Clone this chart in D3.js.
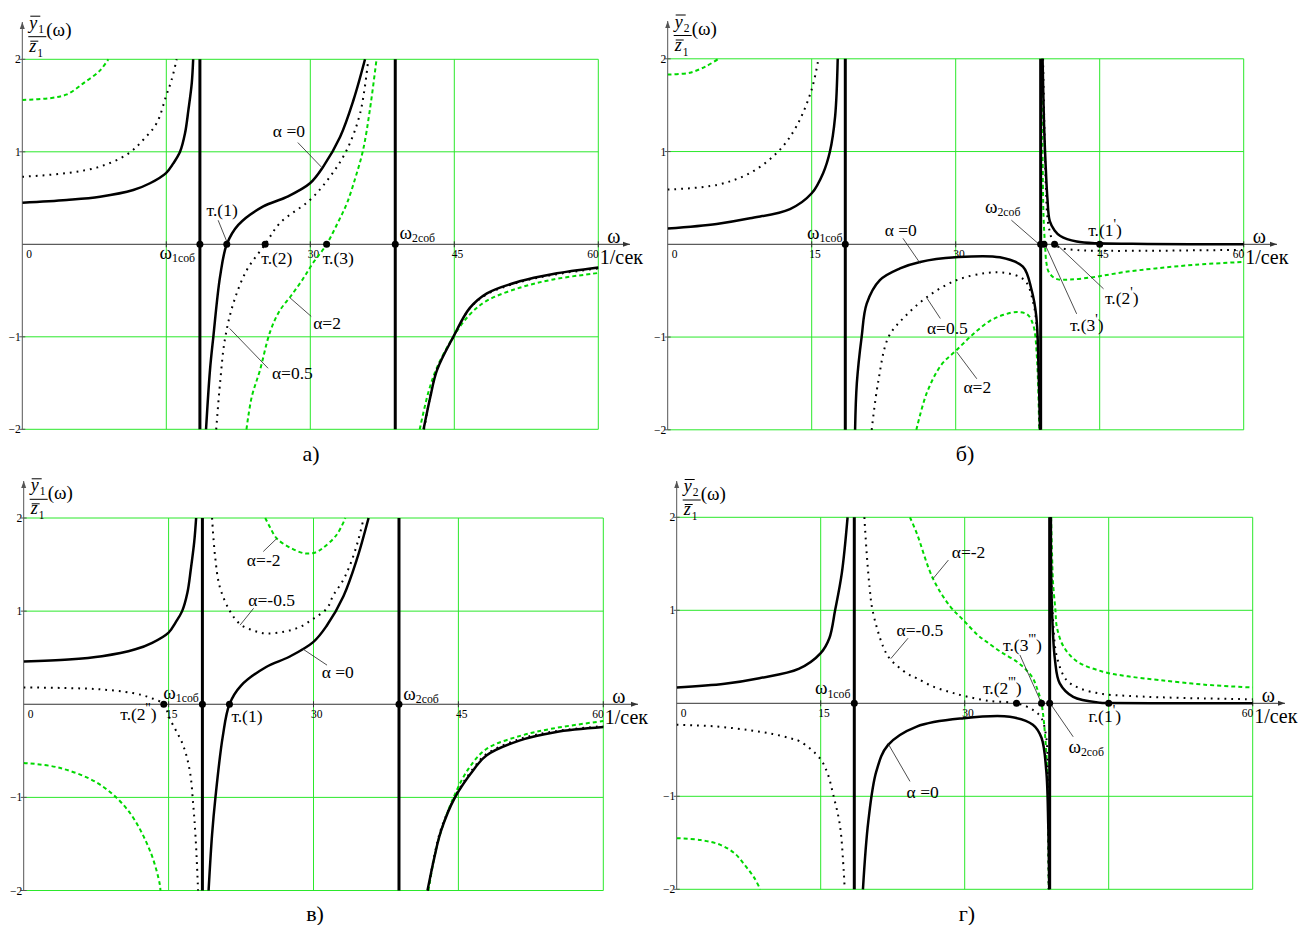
<!DOCTYPE html>
<html><head><meta charset="utf-8">
<script src="https://cdn.jsdelivr.net/npm/d3@7"></script>
<style>
body{margin:0;background:#fff}
svg, text{font-family:"Liberation Serif","Tinos","DejaVu Serif","Noto Serif",serif !important;}
text{fill:#000}
</style>
</head><body>
<svg id="chart" width="1309" height="925" font-family="Liberation Serif, Tinos, DejaVu Serif, serif"></svg>
<script>
// ---------------- data ----------------
const xTicks = [0, 15, 30, 45, 60];
const xTickLabels = ["0", "15", "30", "45", "60"];
const yTicks = [2, 1, -1, -2];
const yTickLabels = ["2", "1", "\u22121", "\u22122"];
const resonance = [18.5, 38.85];           // ω1соб, ω2соб

// panel а) y1/z1, α = 0, 0.5, 2
const a_alpha0 = [
  [[0,0.45],[4.63,0.48],[8.1,0.515],[11.56,0.587],[13.3,0.66],[14.97,0.77],[15.73,0.875],[16.43,1.0],[16.95,1.2],[17.3,1.45],[17.65,1.74],[17.8,2.0]],
  [[19.14,-2],[19.55,-1.36],[19.9,-1.0],[20.6,-0.35],[21.3,0],[22.5,0.21],[25.1,0.41],[27.5,0.51],[29.97,0.66],[31.35,0.84],[33.1,1.16],[34.5,1.56],[35.7,2.0]],
  [[41.8,-2],[42.5,-1.65],[43.2,-1.36],[44.9,-1.0],[46.6,-0.69],[48.4,-0.53],[51.8,-0.40],[55.3,-0.32],[60,-0.25]]
];
const a_alpha05 = [
  [[0,0.73],[4.63,0.77],[8.1,0.84],[11.04,0.98],[12.6,1.13],[14.0,1.31],[14.97,1.6],[15.56,1.78],[16.08,2.0]],
  [[20.2,-2],[20.6,-1.5],[21.1,-1.03],[21.98,-0.64],[23.38,-0.28],[25.3,0],[26.84,0.23],[29.97,0.48],[32.05,0.73],[33.8,1.02],[35.2,1.42],[36.04,2.0]],
  [[41.85,-2],[42.5,-1.64],[43.2,-1.35],[44.9,-1.0],[46.6,-0.695],[48.4,-0.54],[51.8,-0.41],[55.3,-0.33],[60,-0.26]]
];
const a_alpha2 = [
  [[0,1.56],[2.9,1.58],[4.63,1.62],[6.35,1.74],[8.1,1.88],[8.96,2.0]],
  [[23.35,-2],[23.9,-1.65],[24.76,-1.36],[25.8,-0.95],[26.8,-0.72],[27.9,-0.57],[29.2,-0.38],[30.3,-0.2],[31.7,0],[32.8,0.22],[33.8,0.44],[34.7,0.72],[35.5,1.02],[36.2,1.45],[36.9,2.0]],
  [[41.4,-2],[42.3,-1.6],[43.2,-1.33],[44.9,-1.0],[46.6,-0.76],[48.4,-0.61],[51.8,-0.47],[55.3,-0.38],[60,-0.31]]
];
const a_dots = [18.5, 21.3, 25.3, 31.7, 38.85];

// panel б) y2/z1, α = 0, 0.5, 2
const b_alpha0 = [
  [[0,0.17],[5.1,0.22],[8.57,0.28],[12.74,0.38],[15,0.55],[16.2,0.77],[16.9,1.0],[17.44,1.38],[17.71,2.0]],
  [[19.52,-2],[19.7,-1.5],[20.2,-1.0],[20.73,-0.64],[22.1,-0.386],[24.2,-0.26],[26.3,-0.19],[29.97,-0.14],[34.6,-0.14],[37.0,-0.24],[37.9,-0.49],[38.4,-0.78],[38.62,-1.3],[38.78,-2]],
  [[39.05,2],[39.2,1.3],[39.35,0.9],[39.55,0.5],[39.8,0.25],[40.3,0.15],[40.9,0.09],[42.6,0.03],[45,0.01],[50,0.004],[60,0]]
];
const b_alpha05 = [
  [[0,0.59],[5.1,0.64],[8.6,0.77],[11.5,1.0],[13.4,1.27],[15,1.67],[15.7,2.0]],
  [[21.25,-2],[21.9,-1.5],[23.0,-1.0],[24.7,-0.78],[27,-0.57],[30,-0.39],[33.2,-0.31],[35.3,-0.31],[37.2,-0.39],[38.1,-0.64],[38.5,-1.0],[38.75,-2]],
  [[39.1,2],[39.25,1.2],[39.4,0.6],[39.6,0.25],[40.0,0.06],[40.3,0],[41,-0.04],[43,-0.065],[45,-0.07],[50,-0.07],[55,-0.065],[60,-0.06]]
];
const b_alpha2 = [
  [[0,1.83],[2.3,1.85],[4,1.92],[5.3,2.0]],
  [[25.9,-2],[27.0,-1.6],[28.5,-1.3],[30.1,-1.14],[31.8,-0.97],[33.5,-0.83],[35,-0.76],[36.5,-0.73],[37.5,-0.76],[38.1,-0.88],[38.45,-1.2],[38.7,-2]],
  [[39.0,2],[39.05,1.0],[39.15,0.3],[39.3,0],[39.45,-0.2],[39.7,-0.3],[40.4,-0.37],[41.9,-0.38],[44.6,-0.35],[47.5,-0.3],[50.8,-0.26],[55,-0.22],[60,-0.19]]
];
const b_dots = [18.5, 38.85, 39.2, 40.3, 45];

// panel в) y1/z1, α = 0, -0.5, -2
const c_alpha0 = [
  [[0,0.46],[4.63,0.48],[8.1,0.515],[11.56,0.59],[13.3,0.66],[15,0.77],[15.73,0.88],[16.4,1.0],[16.95,1.2],[17.3,1.45],[17.65,1.74],[17.85,2.0]],
  [[19.14,-2],[19.5,-1.4],[19.85,-1.0],[20.6,-0.35],[21.3,0],[22.5,0.2],[25.1,0.4],[27.5,0.51],[30,0.67],[31.35,0.84],[33.1,1.16],[34.5,1.56],[35.7,2.0]],
  [[41.8,-2],[42.5,-1.65],[43.2,-1.36],[44.65,-1.0],[46.6,-0.7],[47.9,-0.55],[51.3,-0.39],[55,-0.3],[60,-0.245]]
];
const c_alphaM05 = [
  [[0,0.18],[4,0.175],[7.9,0.16],[11.3,0.12],[13.1,0.07],[14.5,0],[15.1,-0.15],[16.5,-0.44],[17.2,-0.72],[17.55,-1.08],[17.8,-1.44],[18.05,-2]],
  [[19.5,2],[19.8,1.6],[20.3,1.26],[21.35,1.0],[22.4,0.86],[23.8,0.79],[25.15,0.76],[27,0.78],[28.6,0.83],[30,0.92],[31.4,1.03],[32.05,1.17],[33.0,1.32],[33.8,1.5],[34.6,1.75],[35.2,2.0]],
  [[41.85,-2],[42.5,-1.63],[43.2,-1.34],[44.65,-0.99],[46.6,-0.68],[47.9,-0.535],[51.3,-0.375],[55,-0.29],[60,-0.235]]
];
const c_alphaM2 = [
  [[0,-0.63],[3.6,-0.68],[7.7,-0.85],[10.8,-1.14],[13.1,-1.58],[14.1,-1.94],[14.15,-2]],
  [[25.0,2.0],[25.5,1.9],[26.2,1.78],[27.6,1.68],[29.1,1.62],[30.2,1.63],[31.0,1.68],[32.4,1.82],[33.3,2.0]],
  [[41.9,-2],[42.6,-1.6],[43.4,-1.3],[44.5,-1.0],[46,-0.7],[47.9,-0.48],[51.4,-0.34],[54.8,-0.26],[60,-0.18]]
];
const c_dots = [14.5, 18.5, 21.3, 38.85];

// panel г) y2/z1, α = 0, -0.5, -2
const d_alpha0 = [
  [[0,0.17],[5,0.21],[8.6,0.27],[12.7,0.37],[15,0.54],[15.9,0.7],[16.5,1.0],[17.2,1.4],[17.8,2.0]],
  [[19.4,-2],[19.96,-1.27],[20.8,-0.73],[22.0,-0.45],[25.0,-0.25],[29.9,-0.16],[34.7,-0.145],[37.1,-0.23],[38.0,-0.37],[38.5,-0.73],[38.7,-1.3],[38.8,-2]],
  [[38.98,2],[39.06,1.11],[39.4,0.47],[39.9,0.215],[41.3,0.07],[44.1,0.007],[45,0.004],[50,0.001],[60,0]]
];
const d_alphaM05 = [
  [[0,-0.23],[4.2,-0.25],[7.6,-0.29],[10,-0.33],[11.8,-0.375],[12.85,-0.41],[14.9,-0.59],[15.7,-0.75],[16.3,-0.98],[17.0,-1.31],[17.4,-1.81],[17.5,-2]],
  [[19.55,2],[19.8,1.6],[20.1,1.24],[20.4,1.0],[21.5,0.61],[22.2,0.48],[24.0,0.32],[25,0.27],[26.7,0.18],[28.5,0.12],[29.9,0.08],[32.6,0.025],[35.4,0],[37.1,-0.07],[38.0,-0.16],[38.5,-0.37],[38.65,-0.8],[38.75,-2]],
  [[38.95,2],[39.05,1.3],[39.2,0.9],[39.6,0.5],[40.6,0.25],[42.0,0.16],[44.4,0.1],[47,0.08],[50.3,0.065],[55,0.052],[60,0.043]]
];
const d_alphaM2 = [
  [[0,-1.45],[2.5,-1.47],[4.5,-1.52],[6,-1.61],[7.1,-1.74],[8.1,-1.88],[8.7,-2]],
  [[24.3,2],[25,1.83],[26.7,1.34],[28.5,1.04],[29.9,0.89],[31.4,0.73],[32.3,0.66],[33.8,0.55],[35.4,0.45],[36.4,0.36],[37.1,0.27],[37.6,0.14],[38.0,0],[38.4,-0.38],[38.6,-0.74],[38.7,-1.2],[38.75,-2]],
  [[39.0,2],[39.1,1.6],[39.2,1.3],[39.45,1.0],[39.6,0.82],[40.3,0.61],[41.7,0.45],[44.4,0.34],[47,0.29],[50.3,0.25],[55,0.2],[60,0.17]]
];
const d_dots = [18.5, 35.4, 38.0, 38.85, 45];

// annotation texts
const a_texts = ["α =0", "α=2", "α=0.5", "т.(1)", "т.(2)", "т.(3)", "ω_{2соб}", "ω_{1соб}"];
const b_texts = ["ω_{1соб}", "α =0", "α=0.5", "α=2", "ω_{2соб}", "т.(1^{'})", "т.(2^{'})", "т.(3^{'})"];
const c_texts = ["α=-2", "α=-0.5", "α =0", "ω_{1соб}", "ω_{2соб}", "т.(1)", "т.(2^{''})"];
const d_texts = ["ω_{1соб}", "α=-2", "α=-0.5", "α =0", "т.(3^{'''})", "т.(2^{'''})", "ω_{2соб}", "г.(1^{'})"];

// ---------------- layout (positions in data units, leaders as [ω1,y1,ω2,y2]) ----------------
const a_layout = [
  {at:[26.1,1.22], leader:[28.7,1.10,31.2,0.83]},
  {at:[30.3,-0.85], leader:[27.9,-0.58,30.1,-0.78]},
  {at:[26.0,-1.39], leader:[21.6,-0.91,25.6,-1.34]},
  {at:[19.2,0.37], leader:[20.4,0.26,21.3,0.03]},
  {at:[24.9,-0.15]},
  {at:[31.3,-0.15]},
  {at:[39.3,0.136]},
  {at:[14.3,-0.083]}
];
const b_layout = [
  {at:[14.5,0.136]},
  {at:[22.6,0.155], leader:[24.5,0.065,26.3,-0.205]},
  {at:[27.0,-0.9], leader:[27.0,-0.58,28.4,-0.8]},
  {at:[30.8,-1.54], leader:[30.1,-1.16,32.2,-1.45]},
  {at:[33.05,0.41], leader:[35.8,0.26,38.8,-0.01]},
  {at:[43.8,0.155]},
  {at:[45.55,-0.58], leader:[40.5,0,45.4,-0.48]},
  {at:[41.9,-0.87], leader:[39.3,0,42.6,-0.75]}
];
const c_layout = [
  {at:[23.1,1.55], leader:[24.8,1.64,26.2,1.78]},
  {at:[23.25,1.12], leader:[23.8,1.03,22.4,0.85]},
  {at:[30.85,0.35], leader:[31.4,0.42,28.8,0.6]},
  {at:[14.45,0.135]},
  {at:[39.3,0.12]},
  {at:[21.5,-0.13]},
  {at:[10.0,-0.1]}
];
const d_layout = [
  {at:[14.4,0.17]},
  {at:[28.65,1.63], leader:[28.3,1.54,26.7,1.34]},
  {at:[22.9,0.79], leader:[24.1,0.7,22.3,0.48]},
  {at:[23.95,-0.95], leader:[24.3,-0.84,22.0,-0.43]},
  {at:[34.0,0.63], leader:[35.75,0.52,38.0,0.0]},
  {at:[31.9,0.16]},
  {at:[40.8,-0.46], leader:[41.3,-0.36,38.9,0]},
  {at:[42.9,-0.14]}
];

const panels = [
  {xr:[22.3,598.3], yr:[429.3,59.3], axisTop:22, arrowEnd:630, fracY:36.7, num:"1", title:"а)", titleAt:[311,453], hidden:[15],
   solid:a_alpha0, dotted:a_alpha05, dashed:a_alpha2, dots:a_dots, texts:a_texts, layout:a_layout},
  {xr:[667.7,1243.7], yr:[429.8,58.8], axisTop:21, arrowEnd:1277, fracY:35.5, num:"2", title:"б)", titleAt:[965,453], hidden:[],
   solid:b_alpha0, dotted:b_alpha05, dashed:b_alpha2, dots:b_dots, texts:b_texts, layout:b_layout},
  {xr:[23.7,603.3], yr:[890.5,518], axisTop:481, arrowEnd:638, fracY:499.3, num:"1", title:"в)", titleAt:[315,913], hidden:[],
   solid:c_alpha0, dotted:c_alphaM05, dashed:c_alphaM2, dots:c_dots, texts:c_texts, layout:c_layout},
  {xr:[676.7,1252.7], yr:[889.3,517.3], axisTop:481, arrowEnd:1285, fracY:500, num:"2", title:"г)", titleAt:[967,913], hidden:[45],
   solid:d_alpha0, dotted:d_alphaM05, dashed:d_alphaM2, dots:d_dots, texts:d_texts, layout:d_layout}
];

// ---------------- drawing ----------------
const svg = d3.select("#chart");
const GRID = "#2be82b", GREEN = "#00d800";
const FONT = "Liberation Serif, Tinos, DejaVu Serif, serif";

function rich(g, str, x, y, size) {
  const t = g.append("text").attr("x", x).attr("y", y).attr("font-size", size)
    .attr("font-family", FONT).attr("dominant-baseline", "central");
  const parts = str.split(/(_\{[^}]*\}|\^\{[^}]*\})/).filter(s => s.length);
  let prev = 0;
  parts.forEach(p => {
    let off = 0, txt = p, fs = null;
    if (p.startsWith("_{")) { txt = p.slice(2, -1); off = size * 0.32; fs = size * 0.62; }
    else if (p.startsWith("^{")) { txt = p.slice(2, -1); off = -size * 0.34; fs = size * 0.8; }
    const ts = t.append("tspan").text(txt).attr("dy", off - prev);
    if (fs) ts.attr("font-size", fs);
    prev = off;
  });
  return t;
}

panels.forEach((P, i) => {
  const xs = d3.scaleLinear().domain([0, 60]).range(P.xr);
  const ys = d3.scaleLinear().domain([-2, 2]).range(P.yr);
  const g = svg.append("g").attr("font-family", FONT);
  const clipId = "clip" + i;
  svg.append("clipPath").attr("id", clipId).append("rect")
    .attr("x", xs(0)).attr("y", ys(2) - 2).attr("width", xs(60) - xs(0) + 1).attr("height", ys(-2) - ys(2) + 4);

  // grid
  g.selectAll(".vg").data(xTicks.filter(d => d > 0)).join("line")
    .attr("x1", d => xs(d)).attr("x2", d => xs(d)).attr("y1", ys(2)).attr("y2", ys(-2))
    .attr("stroke", GRID).attr("stroke-width", 1);
  g.selectAll(".hg").data(yTicks).join("line")
    .attr("x1", xs(0)).attr("x2", xs(60)).attr("y1", d => ys(d)).attr("y2", d => ys(d))
    .attr("stroke", GRID).attr("stroke-width", 1);

  // axes
  g.append("line").attr("x1", xs(0)).attr("x2", P.arrowEnd).attr("y1", ys(0)).attr("y2", ys(0))
    .attr("stroke", "#333").attr("stroke-width", 1);
  g.append("path").attr("d", `M${P.arrowEnd},${ys(0)} l-7,-2.5 l0,5 z`).attr("fill", "#333");
  g.append("line").attr("x1", xs(0)).attr("x2", xs(0)).attr("y1", P.axisTop).attr("y2", ys(-2))
    .attr("stroke", "#555").attr("stroke-width", 1);
  g.append("path").attr("d", `M${xs(0)},${P.axisTop} l-2.5,7 l5,0 z`).attr("fill", "#555");

  // ticks
  g.selectAll(".xt").data(xTicks.filter(d => d > 0)).join("line")
    .attr("x1", d => xs(d)).attr("x2", d => xs(d)).attr("y1", ys(0) - 3).attr("y2", ys(0) + 3)
    .attr("stroke", "#333");
  g.selectAll(".yt").data(yTicks).join("line")
    .attr("x1", xs(0) - 3).attr("x2", xs(0) + 3).attr("y1", d => ys(d)).attr("y2", d => ys(d))
    .attr("stroke", "#555");
  const last = xTicks.length - 1;
  const shownX = xTicks.map((d, k) => ({v: d, label: xTickLabels[k], k})).filter(o => !P.hidden.includes(o.v));
  g.selectAll(".xl").data(shownX).join("text")
    .attr("x", o => o.k === 0 ? xs(o.v) + 4 : (o.k === last ? xs(o.v) + 0.5 : xs(o.v) - 2.5))
    .attr("text-anchor", o => o.k === last ? "end" : "start")
    .attr("y", ys(0) + 10)
    .attr("dominant-baseline", "central").attr("font-size", 11.5).text(o => o.label);
  g.selectAll(".yl").data(yTicks).join("text")
    .attr("x", xs(0) - 1.5).attr("y", d => ys(d)).attr("text-anchor", "end")
    .attr("dominant-baseline", "central").attr("font-size", 11.5).text((d, k) => yTickLabels[k]);

  // y-axis label  (ȳ / z̄)(ω)
  const lx = xs(0) + 7, fy = P.fracY;
  g.append("text").attr("x", lx).attr("y", fy - 8).attr("font-size", 18).attr("font-style", "italic").text("y");
  g.append("text").attr("x", lx + 9).attr("y", fy - 4).attr("font-size", 11.5).text(P.num);
  g.append("line").attr("x1", lx + 1).attr("x2", lx + 11).attr("y1", fy - 20.5).attr("y2", fy - 20.5).attr("stroke", "#000");
  g.append("line").attr("x1", lx - 1).attr("x2", lx + 17).attr("y1", fy).attr("y2", fy).attr("stroke", "#000");
  g.append("text").attr("x", lx).attr("y", fy + 15).attr("font-size", 18).attr("font-style", "italic").text("z");
  g.append("text").attr("x", lx + 8).attr("y", fy + 20).attr("font-size", 11.5).text("1");
  g.append("line").attr("x1", lx + 1).attr("x2", lx + 9).attr("y1", fy + 4.5).attr("y2", fy + 4.5).attr("stroke", "#000");
  g.append("text").attr("x", lx + 17).attr("y", fy - 0.5).attr("font-size", 19).text("(ω)");

  // x-axis label
  g.append("text").attr("x", xs(60) + 9).attr("y", ys(0) - 8).attr("dominant-baseline", "central")
    .attr("font-size", 20).text("ω");

  // curves
  const line = d3.line().x(d => xs(d[0])).y(d => ys(d[1])).curve(d3.curveCatmullRom.alpha(0.5));
  const cg = g.append("g").attr("clip-path", `url(#${clipId})`).attr("fill", "none");
  cg.selectAll(".dash").data(P.dashed).join("path").attr("d", line)
    .attr("stroke", GREEN).attr("stroke-width", 2).attr("stroke-dasharray", "4 3");
  cg.selectAll(".dot").data(P.dotted).join("path").attr("d", line)
    .attr("stroke", "#000").attr("stroke-width", 2).attr("stroke-dasharray", "1.8 5");
  cg.selectAll(".sol").data(P.solid).join("path").attr("d", line)
    .attr("stroke", "#000").attr("stroke-width", 2.5);
  // asymptote jumps
  cg.selectAll(".res").data(resonance).join("line")
    .attr("x1", d => xs(d)).attr("x2", d => xs(d)).attr("y1", ys(2)).attr("y2", ys(-2))
    .attr("stroke", "#000").attr("stroke-width", 3);

  // leaders
  g.selectAll(".ld").data(P.layout.filter(l => l.leader)).join("line")
    .attr("x1", l => xs(l.leader[0])).attr("y1", l => ys(l.leader[1]))
    .attr("x2", l => xs(l.leader[2])).attr("y2", l => ys(l.leader[3]))
    .attr("stroke", "#222").attr("stroke-width", 0.8);

  // dots
  g.selectAll(".pt").data(P.dots).join("circle")
    .attr("cx", d => xs(d)).attr("cy", ys(0)).attr("r", 3.5).attr("fill", "#000");

  // annotation labels
  P.texts.forEach((s, k) => {
    const L = P.layout[k];
    const size = s.startsWith("ω") ? 19 : 17.5;
    rich(g, s, xs(L.at[0]), ys(L.at[1]), size);
  });

  // unit label
  g.append("text").attr("x", xs(60) + 1.5).attr("y", ys(0) + 13).attr("dominant-baseline", "central")
    .attr("font-size", 20).text("1/сек");

  // title
  svg.append("text").attr("x", P.titleAt[0]).attr("y", P.titleAt[1]).attr("text-anchor", "middle")
    .attr("font-family", FONT).attr("dominant-baseline", "central").attr("font-size", 22).text(P.title);
});
</script>
</body></html>
